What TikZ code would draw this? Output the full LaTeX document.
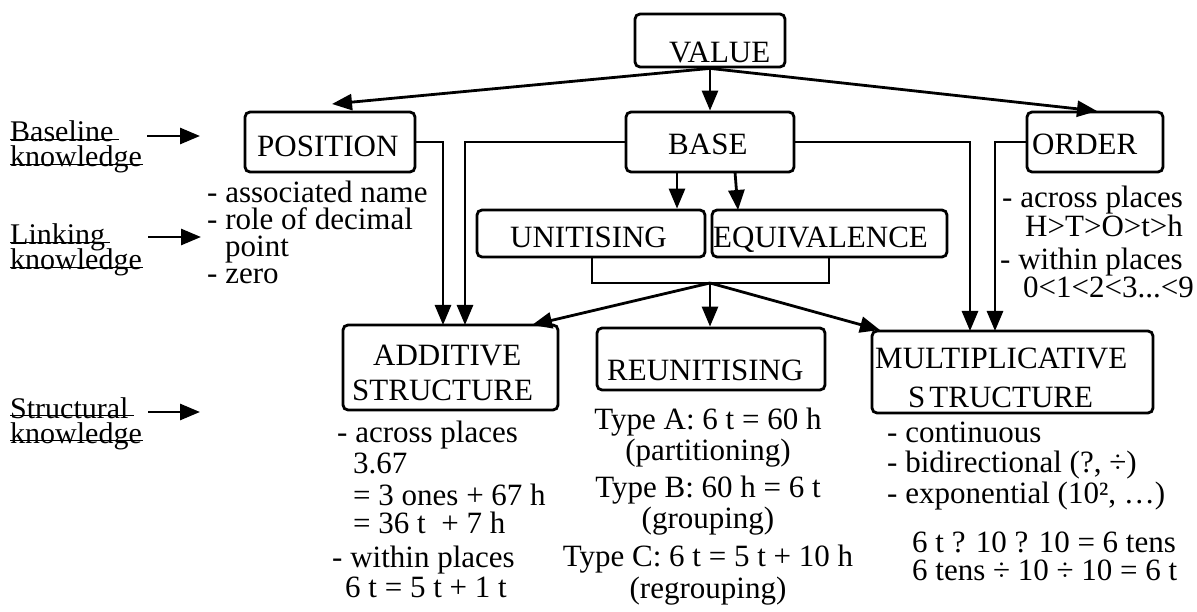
\documentclass[tikz,border=0pt]{standalone}
\usepackage{fontspec}
\setmainfont{Liberation Serif}
\usetikzlibrary{arrows.meta}
\newcommand\tl[4]{\node[txt] (#1) at (#2,#3) {#4};}
\newcommand\cl[4]{\node[ctxt] (#1) at (#2,#3) {#4};}
\begin{document}
\begin{tikzpicture}[x=1pt,y=-1pt,
  box/.style={draw, line width=2.8pt, rounded corners=5pt, inner sep=0pt},
  txt/.style={font=\fontsize{31}{31}\selectfont, anchor=base west, inner sep=0pt},
  ctxt/.style={font=\fontsize{31}{31}\selectfont, anchor=base, inner sep=0pt},
  side/.style={font=\fontsize{30}{30}\selectfont, anchor=base west, inner sep=0pt},
  conn/.style={line width=2.8pt, -{Triangle[length=20pt,width=16pt]}},
  wire/.style={line width=2.8pt},
  strike/.style={line width=1.6pt}]
\useasboundingbox (0,0) rectangle (1197,612);
\fill[white] (0,0) rectangle (1197,612);

% boxes
\node[box, minimum width=150pt, minimum height=53pt] (value) at (710,40.5) {};
\node[box, minimum width=170pt, minimum height=60pt] (position) at (330,142) {};
\node[box, minimum width=168pt, minimum height=60pt] (base) at (710,142) {};
\node[box, minimum width=136pt, minimum height=60pt] (order) at (1095,142) {};
\node[box, minimum width=228pt, minimum height=47pt] (unit) at (591,233.5) {};
\node[box, minimum width=235pt, minimum height=47pt] (equiv) at (829.5,233.5) {};
\node[box, minimum width=215pt, minimum height=85pt] (add) at (450.5,367.5) {};
\node[box, minimum width=228pt, minimum height=62pt] (reun) at (711,359) {};
\node[box, minimum width=281pt, minimum height=82pt] (mult) at (1012.5,372) {};

% box labels
\tl{valuet}{669}{63}{VALUE}
\tl{positiont}{257}{157}{POSITION}
\tl{baset}{668}{155}{BASE}
\tl{ordert}{1032}{155}{ORDER}
\tl{unitt}{510}{248}{UNITISING}
\tl{equivt}{713}{248}{EQUIVALENCE}
\tl{addt1}{373}{365}{ADDITIVE}
\tl{addt2}{352}{400}{STRUCTURE}
\tl{reunt}{607}{380}{REUNITISING}
\tl{multt1}{875}{368}{MULTIPLICATIVE}
\tl{multt2}{908}{407}{S\kern4pt TRUCTURE}

% connectors from VALUE
\coordinate (ptip) at (332,104);
\coordinate (otip) at (1097,111);
\draw[conn] (value.south) -- (ptip);
\draw[conn] (value.south) -- (base.north);
\draw[conn] (value.south) -- (otip);

% POSITION and BASE to ADDITIVE
\coordinate (addin1) at (443,325);
\coordinate (addin2) at (465,325);
\draw[conn] (position.east) -| (addin1);
\draw[conn] (base.west) -| (addin2);

% BASE to UNITISING / EQUIVALENCE
\coordinate (bs1) at (677,172);
\coordinate (bs2) at (735,172);
\coordinate (et) at (738,210);
\draw[conn] (bs1) -- (bs1 |- unit.north);
\draw[conn] (bs2) -- (et);

% bracket
\coordinate (br1) at (592,257);
\coordinate (br2) at (829,257);
\coordinate (brm) at (710,283);
\draw[wire] (br1) |- (brm) -| (br2);
\coordinate (atip) at (532,325);
\coordinate (mtip) at (880,330);
\draw[conn] (brm) -- (atip);
\draw[conn] (brm) -- (brm |- reun.north);
\draw[conn] (brm) -- (mtip);

% BASE and ORDER to MULTIPLICATIVE
\coordinate (min1) at (970,331);
\coordinate (min2) at (995,331);
\draw[conn] (base.east) -| (min1);
\draw[conn] (order.west) -| (min2);

% left labels
\node[side] (bl1) at (10,142) {Baseline};
\node[side] (bl2) at (10,167) {knowledge};
\node[side] (ll1) at (10,245) {Linking};
\node[side] (ll2) at (10,270) {knowledge};
\node[side] (sl1) at (10,418) {Structural};
\node[side] (sl2) at (10,443) {knowledge};
\foreach \n/\e in {bl1/5,bl2/1,ll1/5,ll2/1,sl1/5,sl2/1}{
  \draw[strike] ([yshift=2.5pt]\n.base west) -- ([yshift=2.5pt,xshift=\e pt]\n.base east);
}
\coordinate (a1s) at (147,136); \coordinate (a1e) at (200,136);
\coordinate (a2s) at (148,237); \coordinate (a2e) at (201,237);
\coordinate (a3s) at (148,412); \coordinate (a3e) at (200,412);
\draw[conn] (a1s) -- (a1e);
\draw[conn] (a2s) -- (a2e);
\draw[conn] (a3s) -- (a3e);

% POSITION notes
\tl{p1}{207}{203}{- associated name}
\tl{p2}{207}{230}{- role of decimal}
\tl{p3}{225}{257}{point}
\tl{p4}{207}{284}{- zero}

% ORDER notes
\tl{o1}{1002}{208}{- across places}
\tl{o2}{1025}{237}{H>T>O>t>h}
\tl{o3}{1000}{270}{- within places}
\tl{o4}{1023}{298}{0<1<2<3...<9}

% ADDITIVE notes
\tl{ad1}{337}{442}{- across places}
\tl{ad2}{353}{473}{3.67}
\tl{ad3}{353}{505}{= 3 ones + 67 h}
\tl{ad4}{353}{533}{= 36 t \ + 7 h}
\tl{ad5}{332}{567}{- within places}
\tl{ad6}{345}{597}{6 t = 5 t + 1 t}

% REUNITISING notes
\cl{r1}{708}{429}{Type A: 6 t = 60 h}
\cl{r2}{708}{460}{(partitioning)}
\cl{r3}{708}{497}{Type B: 60 h = 6 t}
\cl{r4}{708}{528}{(grouping)}
\cl{r5}{708}{566}{Type C: 6 t = 5 t + 10 h}
\cl{r6}{708}{598}{(regrouping)}

% MULTIPLICATIVE notes
\tl{m1}{887}{442}{- continuous}
\tl{m2}{887}{472}{- bidirectional (?, ÷)}
\tl{m3}{887}{503}{- exponential (10², …)}
\tl{m4}{912}{552}{6 t ? 10 ? 10 = 6 tens}
\tl{m5}{912}{580}{6 tens ÷ 10 ÷ 10 = 6 t}
\end{tikzpicture}
\end{document}
